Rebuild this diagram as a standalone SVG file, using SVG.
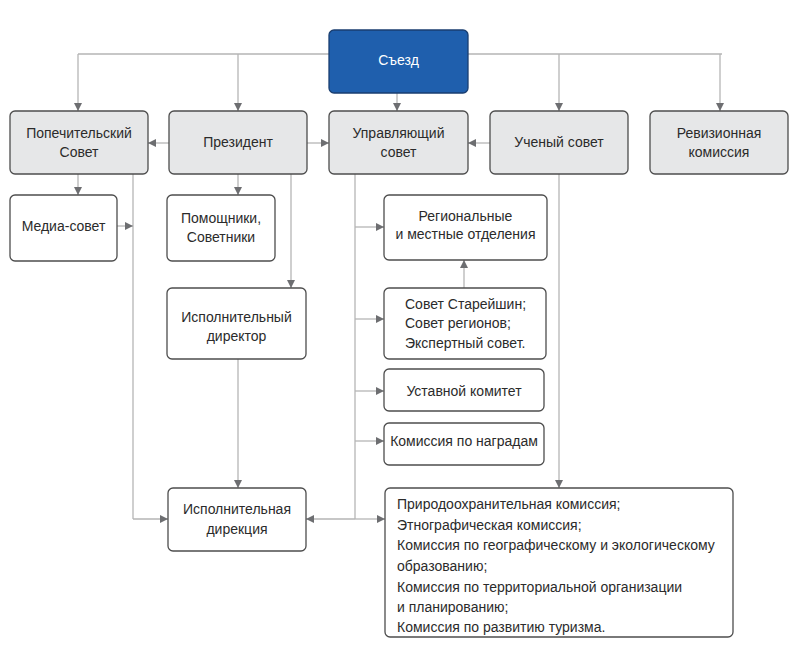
<svg xmlns="http://www.w3.org/2000/svg" width="800" height="657" viewBox="0 0 800 657">
<defs>
<style>
.top{fill:#e6e7e8;stroke:#4d4d4d;stroke-width:1.3}
.box{fill:#ffffff;stroke:#4d4d4d;stroke-width:1.3}
.main{fill:#1f5fad;stroke:#1a3e70;stroke-width:1.3}
.t{font-family:"Liberation Sans",Arial,sans-serif;font-size:14px;fill:#2b2b2b;text-anchor:middle;dominant-baseline:central}
.tl{font-family:"Liberation Sans",Arial,sans-serif;font-size:14px;fill:#2b2b2b;dominant-baseline:central}
.w{fill:#ffffff}
.c{fill:none;stroke:#b5b5b5;stroke-width:1.3}
.a{fill:none;stroke:#b5b5b5;stroke-width:1.3;marker-end:url(#arr)}
</style>
<marker id="arr" viewBox="0 0 10 10" refX="10" refY="5" markerWidth="8" markerHeight="8" markerUnits="userSpaceOnUse" orient="auto">
<path d="M0,0 L10,5 L0,10 Z" fill="#6d6e71"/>
</marker>
</defs>

<g id="connectors">
<path class="c" d="M78,54 H722"/>
<path class="a" d="M78,54 V111"/>
<path class="a" d="M238,54 V111"/>
<path class="a" d="M559,54 V111"/>
<path class="a" d="M720,54 V111"/>
<path class="a" d="M397,93 V111"/>
<path class="a" d="M169,143 H148"/>
<path class="a" d="M307,143 H329"/>
<path class="a" d="M490,143 H468"/>
<path class="a" d="M78,174 V195"/>
<path class="c" d="M133,174 V519"/>
<path class="a" d="M133,519 H168"/>
<path class="a" d="M117,226 H133"/>
<path class="a" d="M238,174 V195"/>
<path class="a" d="M291,174 V288"/>
<path class="a" d="M238,359 V488"/>
<path class="c" d="M355,174 V519"/>
<path class="a" d="M355,227 H384"/>
<path class="a" d="M355,319 H384"/>
<path class="a" d="M355,391 H384"/>
<path class="a" d="M355,441 H384"/>
<path class="a" d="M464,288 V260"/>
<path class="a" d="M355,519 H306"/>
<path class="a" d="M355,519 H385"/>
<path class="a" d="M559,174 V488"/>
</g>

<g id="n-sezd"><rect class="main" x="329" y="30" width="139" height="63" rx="5"/><text class="t w" x="398.5" y="60">Съезд</text></g>

<g id="n-popech"><rect class="top" x="10" y="111" width="138" height="63" rx="5"/><text class="t" x="79" y="133">Попечительский</text><text class="t" x="79" y="152">Совет</text></g>
<g id="n-president"><rect class="top" x="169" y="111" width="138" height="63" rx="5"/><text class="t" x="238" y="142">Президент</text></g>
<g id="n-upr"><rect class="top" x="329" y="111" width="139" height="63" rx="5"/><text class="t" x="398.5" y="133">Управляющий</text><text class="t" x="398.5" y="152">совет</text></g>
<g id="n-uch"><rect class="top" x="490" y="111" width="138" height="63" rx="5"/><text class="t" x="559" y="142">Ученый совет</text></g>
<g id="n-rev"><rect class="top" x="650" y="111" width="138" height="63" rx="5"/><text class="t" x="719" y="133">Ревизионная</text><text class="t" x="719" y="152">комиссия</text></g>

<g id="n-media"><rect class="box" x="10" y="195" width="107" height="66" rx="5"/><text class="t" x="63.5" y="226">Медиа-совет</text></g>
<g id="n-pomosh"><rect class="box" x="167" y="195" width="108" height="66" rx="5"/><text class="t" x="221" y="218">Помощники,</text><text class="t" x="221" y="237">Советники</text></g>
<g id="n-ispdir"><rect class="box" x="167" y="288" width="139" height="71" rx="5"/><text class="t" x="236.5" y="317">Исполнительный</text><text class="t" x="236.5" y="336">директор</text></g>
<g id="n-ispdirekc"><rect class="box" x="168" y="488" width="138" height="63" rx="5"/><text class="t" x="237" y="509">Исполнительная</text><text class="t" x="237" y="529">дирекция</text></g>

<g id="n-region"><rect class="box" x="384" y="195" width="163" height="65" rx="5"/><text class="t" x="465.5" y="216">Региональные</text><text class="t" x="465.5" y="234">и местные отделения</text></g>
<g id="n-starei"><rect class="box" x="384" y="288" width="162" height="71" rx="5"/><text class="tl" x="405" y="304">Совет Старейшин;</text><text class="tl" x="405" y="323">Совет регионов;</text><text class="tl" x="405" y="343">Экспертный совет.</text></g>
<g id="n-ustav"><rect class="box" x="384" y="369" width="160" height="42" rx="5"/><text class="t" x="464" y="391">Уставной комитет</text></g>
<g id="n-nagrad"><rect class="box" x="384" y="423" width="160" height="42" rx="5"/><text class="t" x="464" y="441">Комиссия по наградам</text></g>

<g id="n-komissii"><rect class="box" x="385" y="488" width="348" height="149" rx="5"/>
<text class="tl" x="397" y="504">Природоохранительная комиссия;</text>
<text class="tl" x="397" y="524.5">Этнографическая комиссия;</text>
<text class="tl" x="397" y="545">Комиссия по географическому и экологическому</text>
<text class="tl" x="397" y="566">образованию;</text>
<text class="tl" x="397" y="586.5">Комиссия по территориальной организации</text>
<text class="tl" x="397" y="607">и планированию;</text>
<text class="tl" x="397" y="627">Комиссия по развитию туризма.</text>
</g>
</svg>
